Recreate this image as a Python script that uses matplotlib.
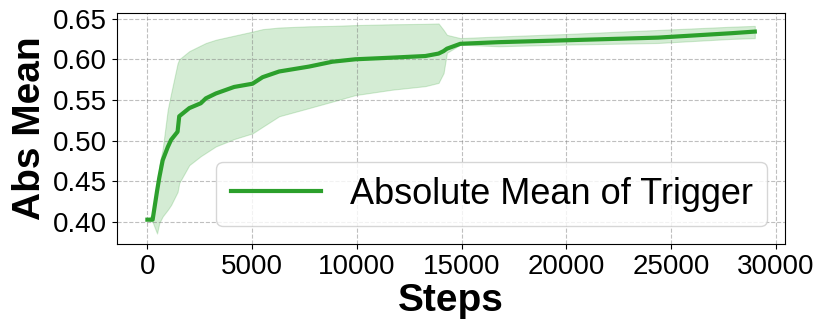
import matplotlib
matplotlib.use("Agg")
import matplotlib.pyplot as plt

steps = [0, 250, 460, 570, 730, 970, 1130, 1440, 1520, 2000, 2550, 2790, 3270, 4140,
         5020, 5500, 6290, 7710, 8830, 9930, 11680, 13270, 13900, 14140, 14300, 14940,
         16760, 19940, 24380, 27870, 29000]
mean_vals = [0.403, 0.403, 0.438, 0.455, 0.476, 0.492, 0.501, 0.511, 0.530, 0.540, 0.546,
             0.552, 0.558, 0.566, 0.570, 0.578, 0.585, 0.591, 0.597, 0.600, 0.602, 0.604,
             0.607, 0.610, 0.613, 0.619, 0.621, 0.6233, 0.6266, 0.632, 0.634]
upper_vals = [0.403, 0.410, 0.440, 0.470, 0.490, 0.538, 0.558, 0.595, 0.600, 0.610, 0.617,
              0.620, 0.624, 0.629, 0.634, 0.637, 0.639, 0.6405, 0.641, 0.642, 0.643, 0.6435,
              0.644, 0.636, 0.630, 0.626, 0.628, 0.631, 0.636, 0.640, 0.641]
lower_vals = [0.403, 0.400, 0.386, 0.399, 0.407, 0.415, 0.421, 0.437, 0.448, 0.470, 0.481,
              0.485, 0.493, 0.502, 0.509, 0.517, 0.530, 0.540, 0.548, 0.556, 0.5626, 0.567,
              0.571, 0.583, 0.608, 0.618, 0.616, 0.618, 0.620, 0.625, 0.626]
label = "Absolute Mean of Trigger"
xticks = [0, 5000, 10000, 15000, 20000, 25000, 30000]
yticks = [0.40, 0.45, 0.50, 0.55, 0.60, 0.65]

plt.rcParams['font.family'] = ['Liberation Sans', 'DejaVu Sans']

fig = plt.figure(figsize=(8.3, 3.32), dpi=100)
ax = fig.add_axes([0.141, 0.265, 0.805, 0.696])

color = '#2ca02c'
ax.fill_between(steps, lower_vals, upper_vals, color=color, alpha=0.2, linewidth=0.8)
ax.plot(steps, mean_vals, color=color, linewidth=3, label=label)

ax.set_xticks(xticks)
ax.set_yticks(yticks)
ax.set_yticklabels([f"{v:.2f}" for v in yticks])
ax.tick_params(axis='both', labelsize=20)
ax.grid(True, linestyle='--', color='gray', alpha=0.5)
ax.set_xlabel("Steps", fontsize=28, fontweight='bold', labelpad=2)
ax.set_ylabel("Abs Mean", fontsize=28, fontweight='bold', labelpad=4)
ax.legend(loc='lower right', fontsize=26, framealpha=0.8, handlelength=2.5)

fig.savefig("out.png", dpi=100)
